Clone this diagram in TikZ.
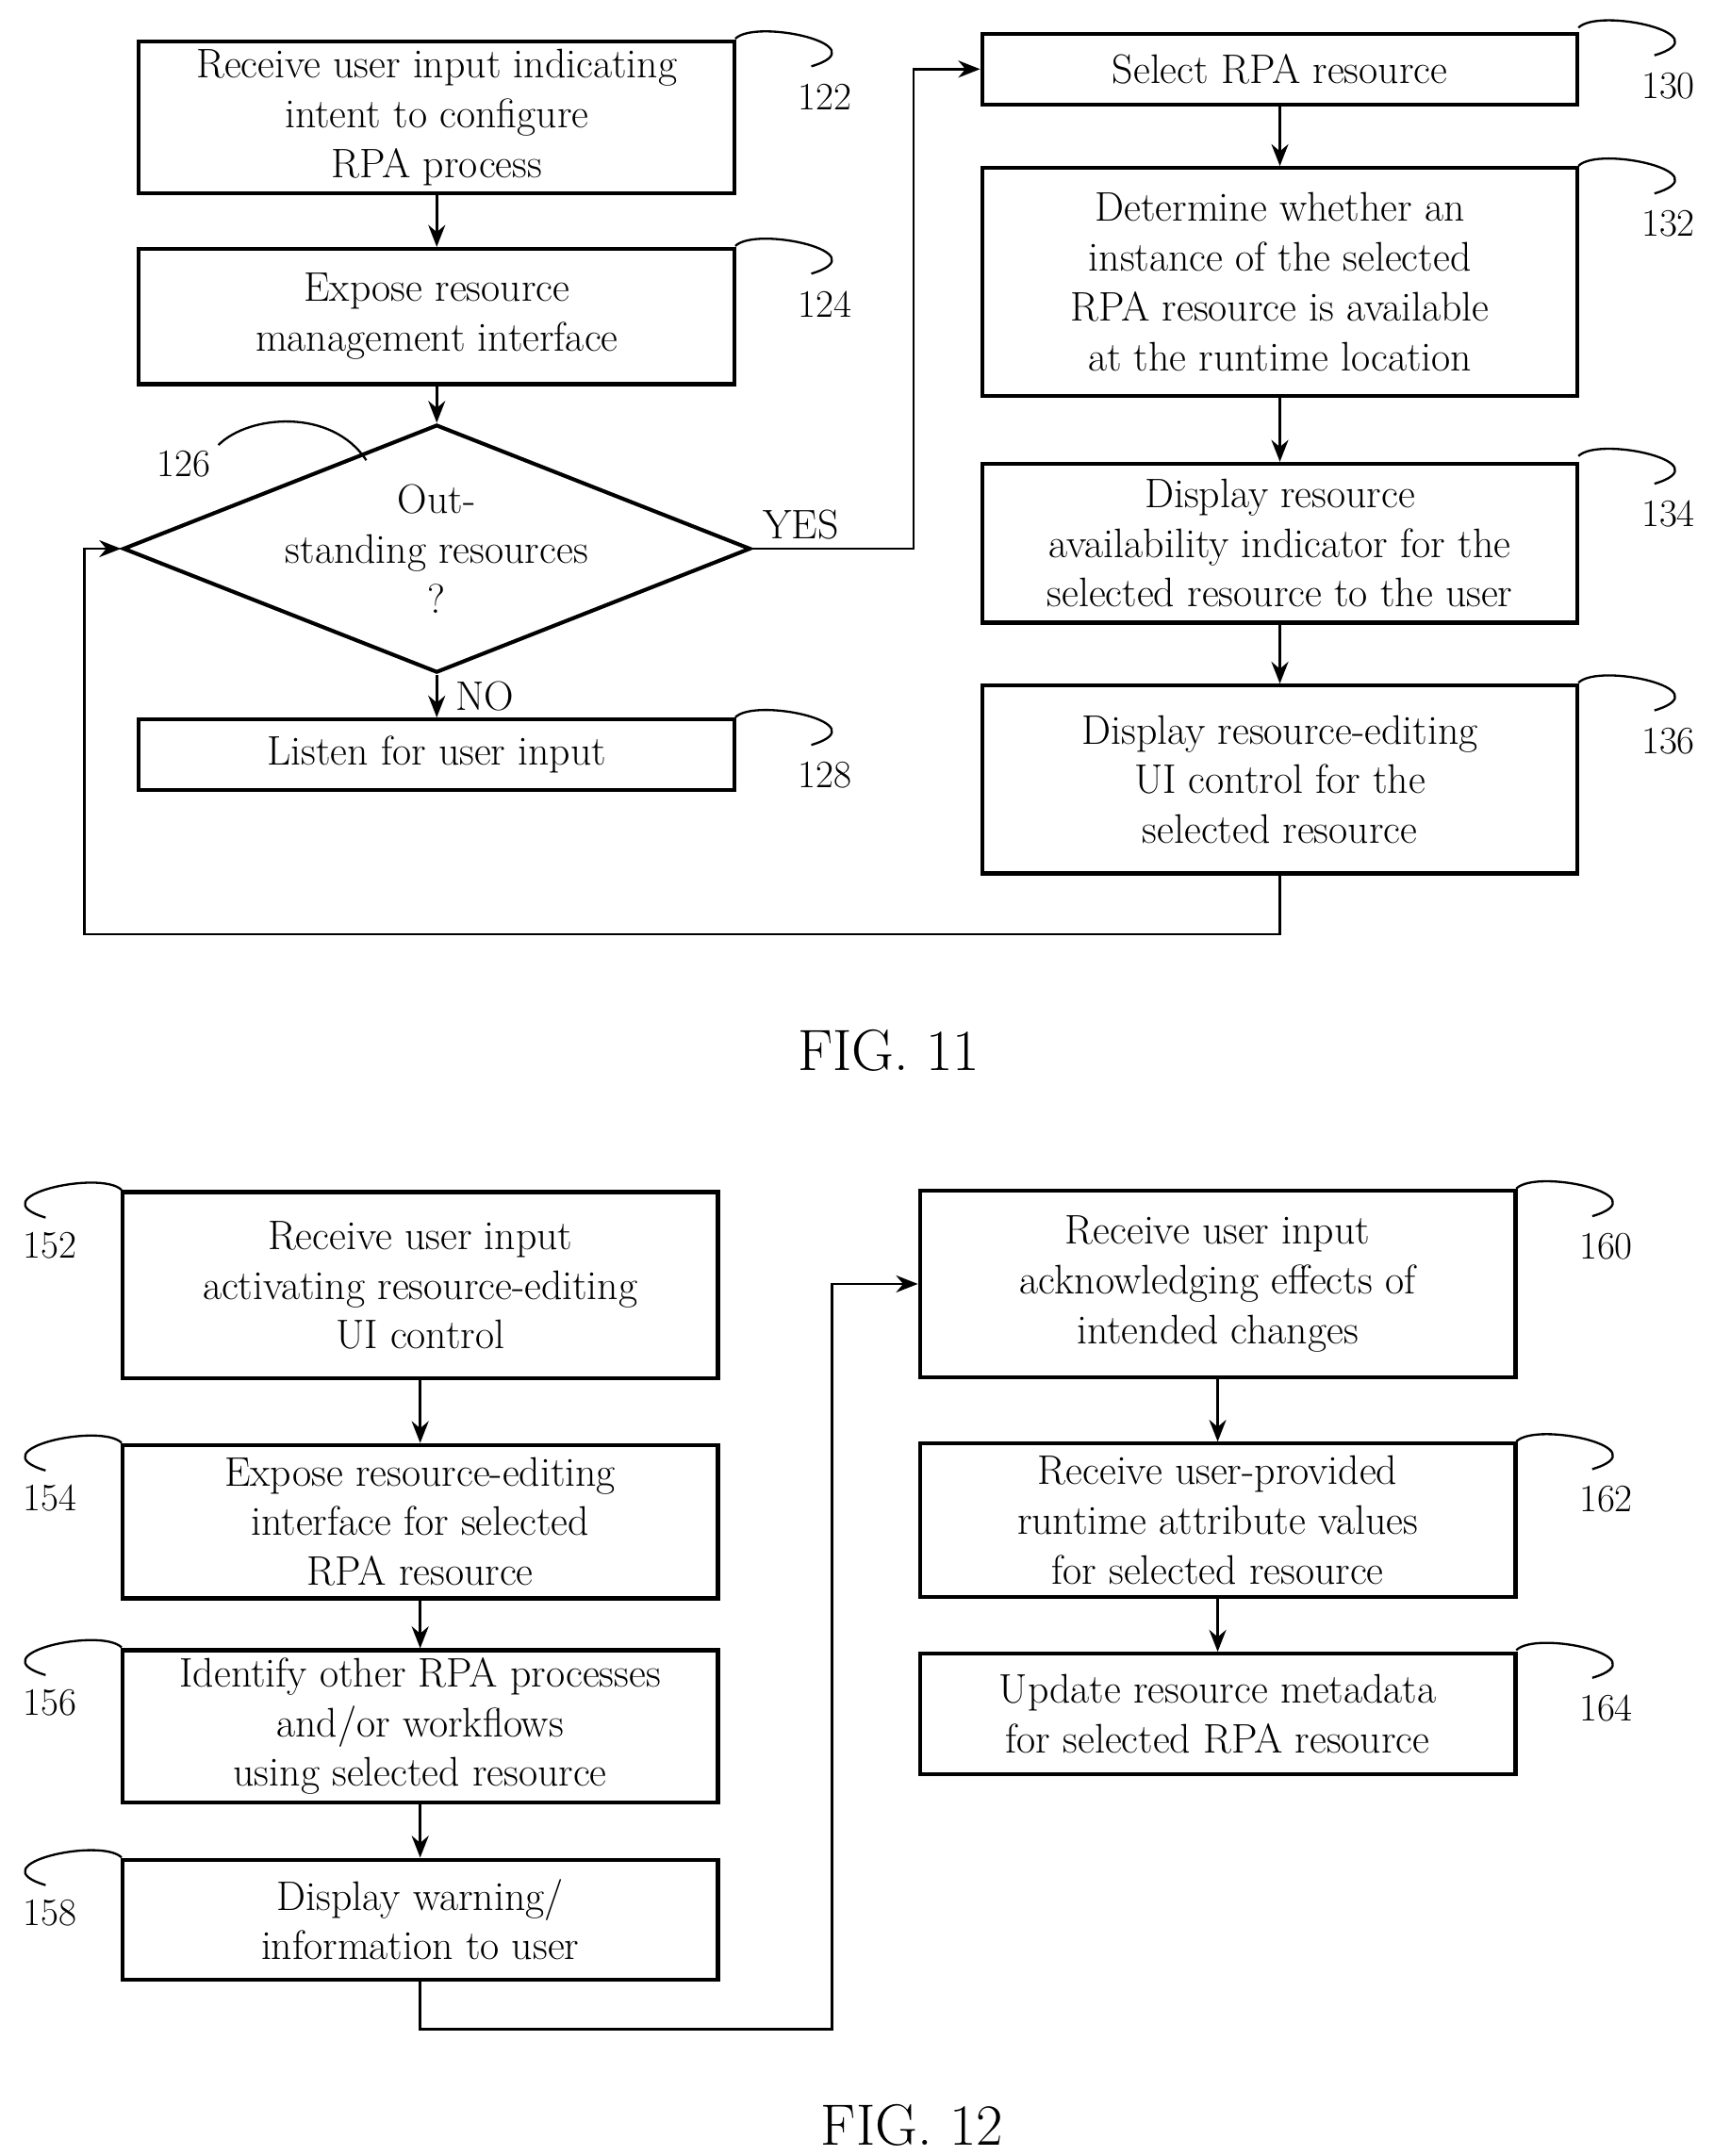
\documentclass[tikz,border=0pt]{standalone}
\usetikzlibrary{shapes.geometric}
\usetikzlibrary{arrows.meta}
\tikzset{box/.style={draw,line width=1.6pt,rectangle,align=center,minimum width=8.62cm,inner sep=2pt},
         dec/.style={draw,line width=1.6pt,diamond,aspect=2.53,align=center,inner sep=0pt,minimum width=8.06cm,minimum height=3.18cm},
         link/.style={line width=1.1pt,-{Stealth[length=9pt,width=7pt]}},
         lead/.style={line width=0.9pt},
         num/.style={font=\fontsize{16}{18}\selectfont}}
\newcommand{\leadR}[3]{\draw[lead] (#1,#2) .. controls +(15,-15) and +(50,-15) .. +(55,20);
  \node[num] at ($(#1,#2)+(65,42)$) {#3};}
\newcommand{\leadL}[3]{\draw[lead] (#1,#2) .. controls +(-15,-15) and +(-50,-15) .. +(-55,20);
  \node[num] at ($(#1,#2)+(-52,40)$) {#3};}
\usetikzlibrary{calc}
\begin{document}
\begin{tikzpicture}[x=0.02cm,y=-0.02cm,font=\fontsize{17}{20.5}\selectfont]
	\useasboundingbox (0,0) rectangle (1240,1560);
	
	% FIG. 11
	\node (b122) [box,minimum height=2.2cm] at (316,85) {Receive user input indicating\\intent to configure\\RPA process};
	\node (b124) [box,minimum height=1.96cm] at (316,229) {Expose resource\\management interface};
	\node (d126) [dec] at (316,397) {Out-\\standing resources\\?};
	\node (b128) [box,minimum height=1.02cm] at (316,546) {Listen for user input};
	\node (b130) [box,minimum height=1.02cm] at (926,50) {Select RPA resource};
	\node (b132) [box,minimum height=3.3cm] at (926,204) {Determine whether an\\instance of the selected\\RPA resource is available\\at the runtime location};
	\node (b134) [box,minimum height=2.3cm] at (926,393) {Display resource\\availability indicator for the\\selected resource to the user};
	\node (b136) [box,minimum height=2.72cm] at (926,564) {Display resource-editing\\UI control for the\\selected resource};
	\coordinate (c1) at (661,397);
	\coordinate (c2) at (61,676);
	
	\draw[link] (b122) -- (b124);
	\draw[link] (b124) -- (d126);
	\draw[link] (d126) -- node[right,xshift=4pt] {NO} (b128);
	\draw[link] (d126.east) -- node[above,pos=0.3] {YES} (c1) |- (b130.west);
	\draw[link] (b130) -- (b132);
	\draw[link] (b132) -- (b134);
	\draw[link] (b134) -- (b136);
	\draw[link] (b136.south) |- (c2) |- (d126.west);
	
	\leadR{532}{28}{122}
	\leadR{532}{178}{124}
	\leadR{532}{519}{128}
	\leadR{1142}{20}{130}
	\leadR{1142}{120}{132}
	\leadR{1142}{330}{134}
	\leadR{1142}{494}{136}
	\draw[lead] (265,333) .. controls (240,295) and (180,300) .. (158,322);
	\node[num] at (133,336) {126};
	
	\node (f11) at (643,760) {\fontsize{24}{28}\selectfont FIG. 11};
	
	% FIG. 12
	\node (b152) [box,minimum height=2.7cm] at (304,930) {Receive user input\\activating resource-editing\\UI control};
	\node (b154) [box,minimum height=2.22cm] at (304,1101) {Expose resource-editing\\interface for selected\\RPA resource};
	\node (b156) [box,minimum height=2.2cm] at (304,1249) {Identify other RPA processes\\and/or workflows\\using selected resource};
	\node (b158) [box,minimum height=1.74cm] at (304,1389) {Display warning/\\information to user};
	\node (b160) [box,minimum height=2.7cm] at (881,929) {Receive user input\\acknowledging effects of\\intended changes};
	\node (b162) [box,minimum height=2.22cm] at (881,1100) {Receive user-provided\\runtime attribute values\\for selected resource};
	\node (b164) [box,minimum height=1.74cm] at (881,1240) {Update resource metadata\\for selected RPA resource};
	\coordinate (c3) at (602,1468);
	
	\draw[link] (b152) -- (b154);
	\draw[link] (b154) -- (b156);
	\draw[link] (b156) -- (b158);
	\draw[link] (b158.south) |- (c3) |- (b160.west);
	\draw[link] (b160) -- (b162);
	\draw[link] (b162) -- (b164);
	
	\leadL{88}{861}{152}
	\leadL{88}{1044}{154}
	\leadL{88}{1192}{156}
	\leadL{88}{1344}{158}
	\leadR{1097}{860}{160}
	\leadR{1097}{1043}{162}
	\leadR{1097}{1194}{164}
	
	\node (f12) at (660,1538) {\fontsize{24}{28}\selectfont FIG. 12};
\end{tikzpicture}
\end{document}
